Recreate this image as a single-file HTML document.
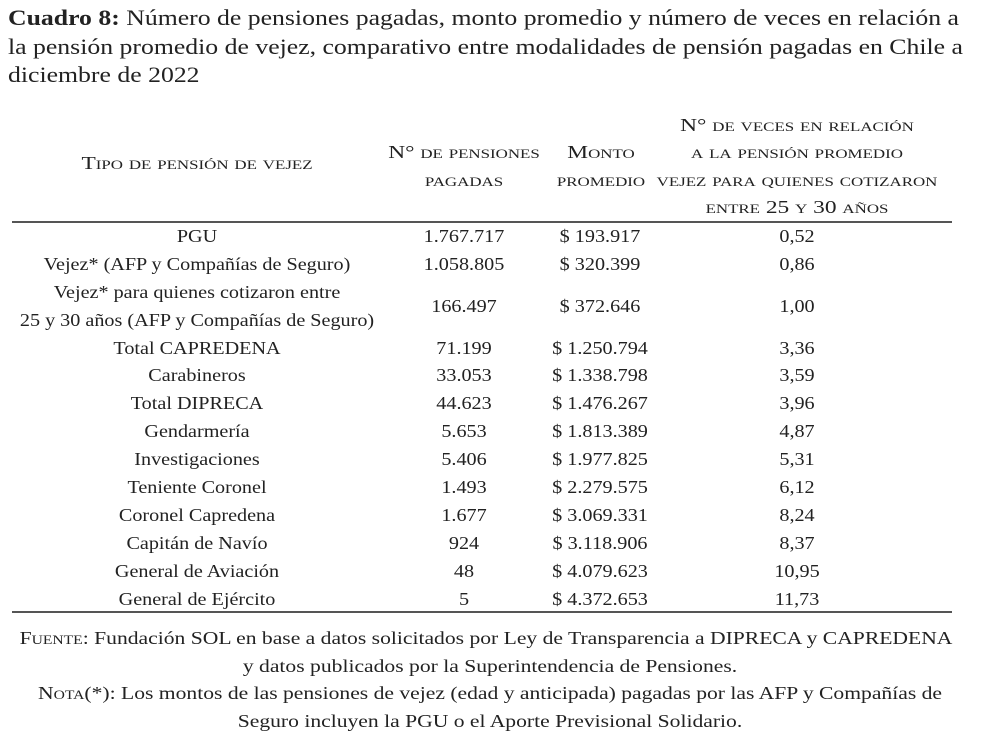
<!DOCTYPE html>
<html><head><meta charset="utf-8"><style>
body{margin:0;width:983px;height:749px;background:#fff;position:relative;font-family:"Liberation Serif",serif;color:#222;overflow:hidden}
.t{position:absolute;white-space:nowrap;line-height:1;transform:translate(-50%,-50%) scaleX(1.12)}
.l{position:absolute;white-space:nowrap;line-height:1;transform:translateY(-50%) scaleX(1.17);transform-origin:0 50%}
.sc{font-variant:small-caps}
.t.sc{transform:translate(-50%,-50%) scaleX(1.3)}
.f{transform:translate(-50%,-50%) scaleX(1.2)}
.f .sc{font-size:18px}
.r{position:absolute;left:12px;width:940px;height:2px;background:#555}
.title{font-size:22px;left:8px}
.c{font-size:18px}
</style></head><body>
<div class="l title" style="top:18px"><b>Cuadro 8:</b> Número de pensiones pagadas, monto promedio y número de veces en relación a</div>
<div class="l title" style="top:47px">la pensión promedio de vejez, comparativo entre modalidades de pensión pagadas en Chile a</div>
<div class="l title" style="top:75px">diciembre de 2022</div>

<div class="t c sc" style="left:197px;top:163px">Tipo de pensión de vejez</div>
<div class="t c sc" style="left:464px;top:152px">N° de pensiones</div>
<div class="t c sc" style="left:464px;top:180px">pagadas</div>
<div class="t c sc" style="left:601px;top:152px">Monto</div>
<div class="t c sc" style="left:601px;top:180px">promedio</div>
<div class="t c sc" style="left:797px;top:125px">N° de veces en relación</div>
<div class="t c sc" style="left:797px;top:152px">a la pensión promedio</div>
<div class="t c sc" style="left:797px;top:180px">vejez para quienes cotizaron</div>
<div class="t c sc" style="left:797px;top:207px">entre 25 y 30 años</div>
<div class="r" style="top:221px"></div>

<div class="t c" style="left:197px;top:236px">PGU</div><div class="t c" style="left:464px;top:236px">1.767.717</div><div class="t c" style="left:600px;top:236px">$ 193.917</div><div class="t c" style="left:797px;top:236px">0,52</div>
<div class="t c" style="left:197px;top:264px">Vejez* (AFP y Compañías de Seguro)</div><div class="t c" style="left:464px;top:264px">1.058.805</div><div class="t c" style="left:600px;top:264px">$ 320.399</div><div class="t c" style="left:797px;top:264px">0,86</div>
<div class="t c" style="left:197px;top:292px">Vejez* para quienes cotizaron entre</div>
<div class="t c" style="left:197px;top:320px">25 y 30 años (AFP y Compañías de Seguro)</div>
<div class="t c" style="left:464px;top:306px">166.497</div><div class="t c" style="left:600px;top:306px">$ 372.646</div><div class="t c" style="left:797px;top:306px">1,00</div>
<div class="t c" style="left:197px;top:348px">Total CAPREDENA</div><div class="t c" style="left:464px;top:348px">71.199</div><div class="t c" style="left:600px;top:348px">$ 1.250.794</div><div class="t c" style="left:797px;top:348px">3,36</div>
<div class="t c" style="left:197px;top:375px">Carabineros</div><div class="t c" style="left:464px;top:375px">33.053</div><div class="t c" style="left:600px;top:375px">$ 1.338.798</div><div class="t c" style="left:797px;top:375px">3,59</div>
<div class="t c" style="left:197px;top:403px">Total DIPRECA</div><div class="t c" style="left:464px;top:403px">44.623</div><div class="t c" style="left:600px;top:403px">$ 1.476.267</div><div class="t c" style="left:797px;top:403px">3,96</div>
<div class="t c" style="left:197px;top:431px">Gendarmería</div><div class="t c" style="left:464px;top:431px">5.653</div><div class="t c" style="left:600px;top:431px">$ 1.813.389</div><div class="t c" style="left:797px;top:431px">4,87</div>
<div class="t c" style="left:197px;top:459px">Investigaciones</div><div class="t c" style="left:464px;top:459px">5.406</div><div class="t c" style="left:600px;top:459px">$ 1.977.825</div><div class="t c" style="left:797px;top:459px">5,31</div>
<div class="t c" style="left:197px;top:487px">Teniente Coronel</div><div class="t c" style="left:464px;top:487px">1.493</div><div class="t c" style="left:600px;top:487px">$ 2.279.575</div><div class="t c" style="left:797px;top:487px">6,12</div>
<div class="t c" style="left:197px;top:515px">Coronel Capredena</div><div class="t c" style="left:464px;top:515px">1.677</div><div class="t c" style="left:600px;top:515px">$ 3.069.331</div><div class="t c" style="left:797px;top:515px">8,24</div>
<div class="t c" style="left:197px;top:543px">Capitán de Navío</div><div class="t c" style="left:464px;top:543px">924</div><div class="t c" style="left:600px;top:543px">$ 3.118.906</div><div class="t c" style="left:797px;top:543px">8,37</div>
<div class="t c" style="left:197px;top:571px">General de Aviación</div><div class="t c" style="left:464px;top:571px">48</div><div class="t c" style="left:600px;top:571px">$ 4.079.623</div><div class="t c" style="left:797px;top:571px">10,95</div>
<div class="t c" style="left:197px;top:599px">General de Ejército</div><div class="t c" style="left:464px;top:599px">5</div><div class="t c" style="left:600px;top:599px">$ 4.372.653</div><div class="t c" style="left:797px;top:599px">11,73</div>
<div class="r" style="top:611px"></div>

<div class="t c f" style="left:486px;top:638px"><span class="sc">Fuente</span>: Fundación SOL en base a datos solicitados por Ley de Transparencia a DIPRECA y CAPREDENA</div>
<div class="t c f" style="left:490px;top:666px">y datos publicados por la Superintendencia de Pensiones.</div>
<div class="t c f" style="left:490px;top:693px"><span class="sc">Nota</span>(*): Los montos de las pensiones de vejez (edad y anticipada) pagadas por las AFP y Compañías de</div>
<div class="t c f" style="left:490px;top:721px">Seguro incluyen la PGU o el Aporte Previsional Solidario.</div>
</body></html>
